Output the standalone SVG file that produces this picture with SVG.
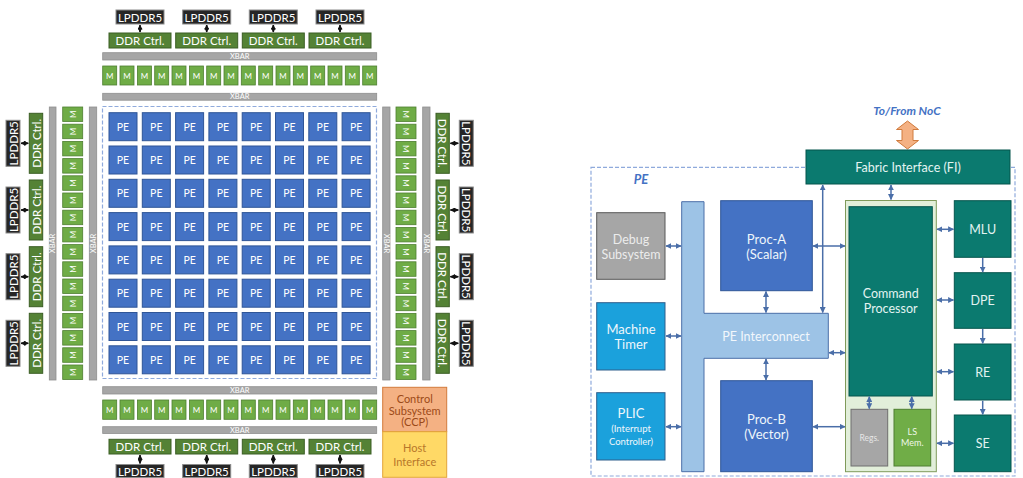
<svg xmlns="http://www.w3.org/2000/svg" width="1023" height="478" viewBox="0 0 1023 478">
<style>
text{font-family:Lato,"Liberation Sans",sans-serif;text-anchor:middle;dominant-baseline:central}
.lp{fill:#262626;stroke:#8c8c8c;stroke-width:1}
.lpt{fill:#fff;font-size:11.5px}
.dc{fill:#548235;stroke:#3b5e25;stroke-width:1}
.dct{fill:#fff;font-size:11.5px}
.xb{fill:#a6a6a6;stroke:#8f8f8f;stroke-width:.8}
.xbt{fill:#fff;font-size:7.5px}
.m{fill:#6fac46;stroke:#4e7f30;stroke-width:.8}
.mt{fill:#fff;font-size:8px}
.pe{fill:#4472c4;stroke:#2f5597;stroke-width:1}
.pet{fill:#fff;font-size:10.5px}
.ka{stroke:#111;stroke-width:1.6;fill:none;marker-start:url(#kh);marker-end:url(#kh)}
.ba{stroke:#4a6ea8;stroke-width:1.5;fill:none;marker-start:url(#bh);marker-end:url(#bh)}
.bs{stroke:#4a6ea8;stroke-width:1.5;fill:none;marker-end:url(#bh)}
.dash{fill:none;stroke:#8faadc;stroke-width:1.2;stroke-dasharray:4 2}
.tl{fill:#0b7a6f;stroke:#05554d;stroke-width:1}
.tlt{fill:#e3f4f2;font-size:12.5px}
.sb{fill:#1ba1dc;stroke:#2e5e8c;stroke-width:1}
.wt{fill:#eef6fb;font-size:13px}
.pb{fill:#4472c4;stroke:#2f5597;stroke-width:1}
</style>
<defs>
<marker id="kh" viewBox="0 0 10 10" refX="9" refY="5" markerWidth="5" markerHeight="5" markerUnits="userSpaceOnUse" orient="auto-start-reverse"><path d="M0,0 L10,5 L0,10 Z" fill="#111"/></marker>
<marker id="bh" viewBox="0 0 10 10" refX="9" refY="5" markerWidth="6" markerHeight="6" markerUnits="userSpaceOnUse" orient="auto-start-reverse"><path d="M0,0 L10,5 L0,10 Z" fill="#4a6ea8"/></marker>
</defs>

<!-- ===== LEFT: SoC diagram ===== -->
<rect class="dash" x="102.5" y="106.5" width="274" height="272"/>

<!-- top memory -->
<g id="top-lpddr-1"><rect class="lp" x="116" y="10" width="48" height="14"/><text class="lpt" x="140" y="17">LPDDR5</text></g>
<g id="top-lpddr-2"><rect class="lp" x="182.7" y="10" width="48" height="14"/><text class="lpt" x="206.7" y="17">LPDDR5</text></g>
<g id="top-lpddr-3"><rect class="lp" x="249.3" y="10" width="48" height="14"/><text class="lpt" x="273.3" y="17">LPDDR5</text></g>
<g id="top-lpddr-4"><rect class="lp" x="316" y="10" width="48" height="14"/><text class="lpt" x="340" y="17">LPDDR5</text></g>
<g id="top-ddr-1"><rect class="dc" x="109" y="33" width="62" height="15"/><text class="dct" x="140" y="40.5">DDR Ctrl.</text></g>
<g id="top-ddr-2"><rect class="dc" x="175.7" y="33" width="62" height="15"/><text class="dct" x="206.7" y="40.5">DDR Ctrl.</text></g>
<g id="top-ddr-3"><rect class="dc" x="242.3" y="33" width="62" height="15"/><text class="dct" x="273.3" y="40.5">DDR Ctrl.</text></g>
<g id="top-ddr-4"><rect class="dc" x="309" y="33" width="62" height="15"/><text class="dct" x="340" y="40.5">DDR Ctrl.</text></g>
<g id="top-xbar-1"><rect class="xb" x="102.7" y="52.7" width="274" height="7.3"/><text class="xbt" x="239.7" y="56.5">XBAR</text></g>
<g id="top-xbar-2"><rect class="xb" x="102.7" y="93.3" width="274" height="6.9"/><text class="xbt" x="239.7" y="96.9">XBAR</text></g>
<g id="top-m">
<rect class="m" x="102.7" y="66" width="14" height="19"/><text class="mt" x="109.7" y="75.5">M</text>
<rect class="m" x="120.0" y="66" width="14" height="19"/><text class="mt" x="127.0" y="75.5">M</text>
<rect class="m" x="137.4" y="66" width="14" height="19"/><text class="mt" x="144.4" y="75.5">M</text>
<rect class="m" x="154.7" y="66" width="14" height="19"/><text class="mt" x="161.7" y="75.5">M</text>
<rect class="m" x="172.0" y="66" width="14" height="19"/><text class="mt" x="179.0" y="75.5">M</text>
<rect class="m" x="189.4" y="66" width="14" height="19"/><text class="mt" x="196.4" y="75.5">M</text>
<rect class="m" x="206.7" y="66" width="14" height="19"/><text class="mt" x="213.7" y="75.5">M</text>
<rect class="m" x="224.0" y="66" width="14" height="19"/><text class="mt" x="231.0" y="75.5">M</text>
<rect class="m" x="241.3" y="66" width="14" height="19"/><text class="mt" x="248.3" y="75.5">M</text>
<rect class="m" x="258.7" y="66" width="14" height="19"/><text class="mt" x="265.7" y="75.5">M</text>
<rect class="m" x="276.0" y="66" width="14" height="19"/><text class="mt" x="283.0" y="75.5">M</text>
<rect class="m" x="293.3" y="66" width="14" height="19"/><text class="mt" x="300.3" y="75.5">M</text>
<rect class="m" x="310.7" y="66" width="14" height="19"/><text class="mt" x="317.7" y="75.5">M</text>
<rect class="m" x="328.0" y="66" width="14" height="19"/><text class="mt" x="335.0" y="75.5">M</text>
<rect class="m" x="345.3" y="66" width="14" height="19"/><text class="mt" x="352.3" y="75.5">M</text>
<rect class="m" x="362.7" y="66" width="14" height="19"/><text class="mt" x="369.7" y="75.5">M</text>
</g>

<!-- bottom memory -->
<g id="bot-xbar-1"><rect class="xb" x="102.7" y="386.7" width="274" height="7.3"/><text class="xbt" x="239.7" y="390.5">XBAR</text></g>
<g id="bot-xbar-2"><rect class="xb" x="102.7" y="426.7" width="274" height="6.8"/><text class="xbt" x="239.7" y="430.2">XBAR</text></g>
<g id="bot-m">
<rect class="m" x="102.7" y="400" width="14" height="19.3"/><text class="mt" x="109.7" y="409.7">M</text>
<rect class="m" x="120.0" y="400" width="14" height="19.3"/><text class="mt" x="127.0" y="409.7">M</text>
<rect class="m" x="137.4" y="400" width="14" height="19.3"/><text class="mt" x="144.4" y="409.7">M</text>
<rect class="m" x="154.7" y="400" width="14" height="19.3"/><text class="mt" x="161.7" y="409.7">M</text>
<rect class="m" x="172.0" y="400" width="14" height="19.3"/><text class="mt" x="179.0" y="409.7">M</text>
<rect class="m" x="189.4" y="400" width="14" height="19.3"/><text class="mt" x="196.4" y="409.7">M</text>
<rect class="m" x="206.7" y="400" width="14" height="19.3"/><text class="mt" x="213.7" y="409.7">M</text>
<rect class="m" x="224.0" y="400" width="14" height="19.3"/><text class="mt" x="231.0" y="409.7">M</text>
<rect class="m" x="241.3" y="400" width="14" height="19.3"/><text class="mt" x="248.3" y="409.7">M</text>
<rect class="m" x="258.7" y="400" width="14" height="19.3"/><text class="mt" x="265.7" y="409.7">M</text>
<rect class="m" x="276.0" y="400" width="14" height="19.3"/><text class="mt" x="283.0" y="409.7">M</text>
<rect class="m" x="293.3" y="400" width="14" height="19.3"/><text class="mt" x="300.3" y="409.7">M</text>
<rect class="m" x="310.7" y="400" width="14" height="19.3"/><text class="mt" x="317.7" y="409.7">M</text>
<rect class="m" x="328.0" y="400" width="14" height="19.3"/><text class="mt" x="335.0" y="409.7">M</text>
<rect class="m" x="345.3" y="400" width="14" height="19.3"/><text class="mt" x="352.3" y="409.7">M</text>
<rect class="m" x="362.7" y="400" width="14" height="19.3"/><text class="mt" x="369.7" y="409.7">M</text>
</g>
<g id="bot-ddr-1"><rect class="dc" x="109" y="439.3" width="62" height="14.7"/><text class="dct" x="140" y="446.7">DDR Ctrl.</text></g>
<g id="bot-ddr-2"><rect class="dc" x="175.7" y="439.3" width="62" height="14.7"/><text class="dct" x="206.7" y="446.7">DDR Ctrl.</text></g>
<g id="bot-ddr-3"><rect class="dc" x="242.3" y="439.3" width="62" height="14.7"/><text class="dct" x="273.3" y="446.7">DDR Ctrl.</text></g>
<g id="bot-ddr-4"><rect class="dc" x="309" y="439.3" width="62" height="14.7"/><text class="dct" x="340" y="446.7">DDR Ctrl.</text></g>
<g id="bot-lpddr-1"><rect class="lp" x="116" y="464.5" width="48" height="13"/><text class="lpt" x="140" y="471">LPDDR5</text></g>
<g id="bot-lpddr-2"><rect class="lp" x="182.7" y="464.5" width="48" height="13"/><text class="lpt" x="206.7" y="471">LPDDR5</text></g>
<g id="bot-lpddr-3"><rect class="lp" x="249.3" y="464.5" width="48" height="13"/><text class="lpt" x="273.3" y="471">LPDDR5</text></g>
<g id="bot-lpddr-4"><rect class="lp" x="316" y="464.5" width="48" height="13"/><text class="lpt" x="340" y="471">LPDDR5</text></g>

<!-- left memory -->
<g id="left-lpddr-1"><rect class="lp" x="6" y="120.3" width="14" height="46"/><text class="lpt" transform="translate(13,143.3) rotate(-90)">LPDDR5</text></g>
<g id="left-lpddr-2"><rect class="lp" x="6" y="187" width="14" height="46"/><text class="lpt" transform="translate(13,210) rotate(-90)">LPDDR5</text></g>
<g id="left-lpddr-3"><rect class="lp" x="6" y="253.7" width="14" height="46"/><text class="lpt" transform="translate(13,276.7) rotate(-90)">LPDDR5</text></g>
<g id="left-lpddr-4"><rect class="lp" x="6" y="320.3" width="14" height="46"/><text class="lpt" transform="translate(13,343.3) rotate(-90)">LPDDR5</text></g>
<g id="left-ddr-1"><rect class="dc" x="29.3" y="113.3" width="13.4" height="60"/><text class="dct" transform="translate(36,143.3) rotate(-90)">DDR Ctrl.</text></g>
<g id="left-ddr-2"><rect class="dc" x="29.3" y="180" width="13.4" height="60"/><text class="dct" transform="translate(36,210) rotate(-90)">DDR Ctrl.</text></g>
<g id="left-ddr-3"><rect class="dc" x="29.3" y="246.7" width="13.4" height="60"/><text class="dct" transform="translate(36,276.7) rotate(-90)">DDR Ctrl.</text></g>
<g id="left-ddr-4"><rect class="dc" x="29.3" y="313.3" width="13.4" height="60"/><text class="dct" transform="translate(36,343.3) rotate(-90)">DDR Ctrl.</text></g>
<g id="left-xbar-1"><rect class="xb" x="49.3" y="107" width="6.7" height="273"/><text class="xbt" transform="translate(52.7,243.5) rotate(-90)">XBAR</text></g>
<g id="left-xbar-2"><rect class="xb" x="89.3" y="107" width="7.4" height="273"/><text class="xbt" transform="translate(93,243.5) rotate(-90)">XBAR</text></g>
<g id="left-m">
<rect class="m" x="62.7" y="107" width="20" height="14.5"/><text class="mt" transform="translate(72.7,114.25) rotate(-90)">M</text>
<rect class="m" x="62.7" y="124.2" width="20" height="14.5"/><text class="mt" transform="translate(72.7,131.45) rotate(-90)">M</text>
<rect class="m" x="62.7" y="141.4" width="20" height="14.5"/><text class="mt" transform="translate(72.7,148.65) rotate(-90)">M</text>
<rect class="m" x="62.7" y="158.6" width="20" height="14.5"/><text class="mt" transform="translate(72.7,165.85) rotate(-90)">M</text>
<rect class="m" x="62.7" y="175.8" width="20" height="14.5"/><text class="mt" transform="translate(72.7,183.05) rotate(-90)">M</text>
<rect class="m" x="62.7" y="193" width="20" height="14.5"/><text class="mt" transform="translate(72.7,200.25) rotate(-90)">M</text>
<rect class="m" x="62.7" y="210.2" width="20" height="14.5"/><text class="mt" transform="translate(72.7,217.45) rotate(-90)">M</text>
<rect class="m" x="62.7" y="227.4" width="20" height="14.5"/><text class="mt" transform="translate(72.7,234.65) rotate(-90)">M</text>
<rect class="m" x="62.7" y="244.6" width="20" height="14.5"/><text class="mt" transform="translate(72.7,251.85) rotate(-90)">M</text>
<rect class="m" x="62.7" y="261.8" width="20" height="14.5"/><text class="mt" transform="translate(72.7,269.05) rotate(-90)">M</text>
<rect class="m" x="62.7" y="279" width="20" height="14.5"/><text class="mt" transform="translate(72.7,286.25) rotate(-90)">M</text>
<rect class="m" x="62.7" y="296.2" width="20" height="14.5"/><text class="mt" transform="translate(72.7,303.45) rotate(-90)">M</text>
<rect class="m" x="62.7" y="313.4" width="20" height="14.5"/><text class="mt" transform="translate(72.7,320.65) rotate(-90)">M</text>
<rect class="m" x="62.7" y="330.6" width="20" height="14.5"/><text class="mt" transform="translate(72.7,337.85) rotate(-90)">M</text>
<rect class="m" x="62.7" y="347.8" width="20" height="14.5"/><text class="mt" transform="translate(72.7,355.05) rotate(-90)">M</text>
<rect class="m" x="62.7" y="365" width="20" height="14.5"/><text class="mt" transform="translate(72.7,372.25) rotate(-90)">M</text>
</g>

<!-- right memory -->
<g id="right-xbar-1"><rect class="xb" x="382.7" y="107" width="7.3" height="273"/><text class="xbt" transform="translate(386.3,243.5) rotate(90)">XBAR</text></g>
<g id="right-xbar-2"><rect class="xb" x="422.7" y="107" width="7.3" height="273"/><text class="xbt" transform="translate(426.3,243.5) rotate(90)">XBAR</text></g>
<g id="right-m">
<rect class="m" x="396" y="107" width="20" height="14.5"/><text class="mt" transform="translate(406,114.25) rotate(90)">M</text>
<rect class="m" x="396" y="124.2" width="20" height="14.5"/><text class="mt" transform="translate(406,131.45) rotate(90)">M</text>
<rect class="m" x="396" y="141.4" width="20" height="14.5"/><text class="mt" transform="translate(406,148.65) rotate(90)">M</text>
<rect class="m" x="396" y="158.6" width="20" height="14.5"/><text class="mt" transform="translate(406,165.85) rotate(90)">M</text>
<rect class="m" x="396" y="175.8" width="20" height="14.5"/><text class="mt" transform="translate(406,183.05) rotate(90)">M</text>
<rect class="m" x="396" y="193" width="20" height="14.5"/><text class="mt" transform="translate(406,200.25) rotate(90)">M</text>
<rect class="m" x="396" y="210.2" width="20" height="14.5"/><text class="mt" transform="translate(406,217.45) rotate(90)">M</text>
<rect class="m" x="396" y="227.4" width="20" height="14.5"/><text class="mt" transform="translate(406,234.65) rotate(90)">M</text>
<rect class="m" x="396" y="244.6" width="20" height="14.5"/><text class="mt" transform="translate(406,251.85) rotate(90)">M</text>
<rect class="m" x="396" y="261.8" width="20" height="14.5"/><text class="mt" transform="translate(406,269.05) rotate(90)">M</text>
<rect class="m" x="396" y="279" width="20" height="14.5"/><text class="mt" transform="translate(406,286.25) rotate(90)">M</text>
<rect class="m" x="396" y="296.2" width="20" height="14.5"/><text class="mt" transform="translate(406,303.45) rotate(90)">M</text>
<rect class="m" x="396" y="313.4" width="20" height="14.5"/><text class="mt" transform="translate(406,320.65) rotate(90)">M</text>
<rect class="m" x="396" y="330.6" width="20" height="14.5"/><text class="mt" transform="translate(406,337.85) rotate(90)">M</text>
<rect class="m" x="396" y="347.8" width="20" height="14.5"/><text class="mt" transform="translate(406,355.05) rotate(90)">M</text>
<rect class="m" x="396" y="365" width="20" height="14.5"/><text class="mt" transform="translate(406,372.25) rotate(90)">M</text>
</g>
<g id="right-ddr-1"><rect class="dc" x="436" y="113.3" width="13.3" height="60"/><text class="dct" transform="translate(442.7,143.3) rotate(90)">DDR Ctrl.</text></g>
<g id="right-ddr-2"><rect class="dc" x="436" y="180" width="13.3" height="60"/><text class="dct" transform="translate(442.7,210) rotate(90)">DDR Ctrl.</text></g>
<g id="right-ddr-3"><rect class="dc" x="436" y="246.7" width="13.3" height="60"/><text class="dct" transform="translate(442.7,276.7) rotate(90)">DDR Ctrl.</text></g>
<g id="right-ddr-4"><rect class="dc" x="436" y="313.3" width="13.3" height="60"/><text class="dct" transform="translate(442.7,343.3) rotate(90)">DDR Ctrl.</text></g>
<g id="right-lpddr-1"><rect class="lp" x="459.3" y="120.3" width="14" height="46"/><text class="lpt" transform="translate(466.3,143.3) rotate(90)">LPDDR5</text></g>
<g id="right-lpddr-2"><rect class="lp" x="459.3" y="187" width="14" height="46"/><text class="lpt" transform="translate(466.3,210) rotate(90)">LPDDR5</text></g>
<g id="right-lpddr-3"><rect class="lp" x="459.3" y="253.7" width="14" height="46"/><text class="lpt" transform="translate(466.3,276.7) rotate(90)">LPDDR5</text></g>
<g id="right-lpddr-4"><rect class="lp" x="459.3" y="320.3" width="14" height="46"/><text class="lpt" transform="translate(466.3,343.3) rotate(90)">LPDDR5</text></g>

<!-- control / host -->
<g id="ccp"><rect x="382.7" y="387.3" width="64" height="44.4" fill="#f4b183" stroke="#d37b3b" stroke-width="1"/>
<text x="414.7" y="398.5" fill="#9c4a18" font-size="11">Control</text><text x="414.7" y="410" fill="#9c4a18" font-size="11">Subsystem</text><text x="414.7" y="421.5" fill="#9c4a18" font-size="11">(CCP)</text></g>
<g id="host"><rect x="382.7" y="431.7" width="64" height="45.6" fill="#ffd966" stroke="#e3a43a" stroke-width="1"/>
<text x="414.7" y="447" fill="#b8772a" font-size="11">Host</text><text x="414.7" y="461" fill="#b8772a" font-size="11">Interface</text></g>

<!-- PE grid -->
<g id="pe-r1">
<rect class="pe" x="109" y="112.7" width="28" height="28"/><text class="pet" x="123" y="126.7">PE</text>
<rect class="pe" x="142.3" y="112.7" width="28" height="28"/><text class="pet" x="156.3" y="126.7">PE</text>
<rect class="pe" x="175.6" y="112.7" width="28" height="28"/><text class="pet" x="189.6" y="126.7">PE</text>
<rect class="pe" x="208.9" y="112.7" width="28" height="28"/><text class="pet" x="222.9" y="126.7">PE</text>
<rect class="pe" x="242.2" y="112.7" width="28" height="28"/><text class="pet" x="256.2" y="126.7">PE</text>
<rect class="pe" x="275.5" y="112.7" width="28" height="28"/><text class="pet" x="289.5" y="126.7">PE</text>
<rect class="pe" x="308.8" y="112.7" width="28" height="28"/><text class="pet" x="322.8" y="126.7">PE</text>
<rect class="pe" x="342.1" y="112.7" width="28" height="28"/><text class="pet" x="356.1" y="126.7">PE</text>
</g>
<g id="pe-r2">
<rect class="pe" x="109" y="146" width="28" height="28"/><text class="pet" x="123" y="160">PE</text>
<rect class="pe" x="142.3" y="146" width="28" height="28"/><text class="pet" x="156.3" y="160">PE</text>
<rect class="pe" x="175.6" y="146" width="28" height="28"/><text class="pet" x="189.6" y="160">PE</text>
<rect class="pe" x="208.9" y="146" width="28" height="28"/><text class="pet" x="222.9" y="160">PE</text>
<rect class="pe" x="242.2" y="146" width="28" height="28"/><text class="pet" x="256.2" y="160">PE</text>
<rect class="pe" x="275.5" y="146" width="28" height="28"/><text class="pet" x="289.5" y="160">PE</text>
<rect class="pe" x="308.8" y="146" width="28" height="28"/><text class="pet" x="322.8" y="160">PE</text>
<rect class="pe" x="342.1" y="146" width="28" height="28"/><text class="pet" x="356.1" y="160">PE</text>
</g>
<g id="pe-r3">
<rect class="pe" x="109" y="179.3" width="28" height="28"/><text class="pet" x="123" y="193.3">PE</text>
<rect class="pe" x="142.3" y="179.3" width="28" height="28"/><text class="pet" x="156.3" y="193.3">PE</text>
<rect class="pe" x="175.6" y="179.3" width="28" height="28"/><text class="pet" x="189.6" y="193.3">PE</text>
<rect class="pe" x="208.9" y="179.3" width="28" height="28"/><text class="pet" x="222.9" y="193.3">PE</text>
<rect class="pe" x="242.2" y="179.3" width="28" height="28"/><text class="pet" x="256.2" y="193.3">PE</text>
<rect class="pe" x="275.5" y="179.3" width="28" height="28"/><text class="pet" x="289.5" y="193.3">PE</text>
<rect class="pe" x="308.8" y="179.3" width="28" height="28"/><text class="pet" x="322.8" y="193.3">PE</text>
<rect class="pe" x="342.1" y="179.3" width="28" height="28"/><text class="pet" x="356.1" y="193.3">PE</text>
</g>
<g id="pe-r4">
<rect class="pe" x="109" y="212.6" width="28" height="28"/><text class="pet" x="123" y="226.6">PE</text>
<rect class="pe" x="142.3" y="212.6" width="28" height="28"/><text class="pet" x="156.3" y="226.6">PE</text>
<rect class="pe" x="175.6" y="212.6" width="28" height="28"/><text class="pet" x="189.6" y="226.6">PE</text>
<rect class="pe" x="208.9" y="212.6" width="28" height="28"/><text class="pet" x="222.9" y="226.6">PE</text>
<rect class="pe" x="242.2" y="212.6" width="28" height="28"/><text class="pet" x="256.2" y="226.6">PE</text>
<rect class="pe" x="275.5" y="212.6" width="28" height="28"/><text class="pet" x="289.5" y="226.6">PE</text>
<rect class="pe" x="308.8" y="212.6" width="28" height="28"/><text class="pet" x="322.8" y="226.6">PE</text>
<rect class="pe" x="342.1" y="212.6" width="28" height="28"/><text class="pet" x="356.1" y="226.6">PE</text>
</g>
<g id="pe-r5">
<rect class="pe" x="109" y="245.9" width="28" height="28"/><text class="pet" x="123" y="259.9">PE</text>
<rect class="pe" x="142.3" y="245.9" width="28" height="28"/><text class="pet" x="156.3" y="259.9">PE</text>
<rect class="pe" x="175.6" y="245.9" width="28" height="28"/><text class="pet" x="189.6" y="259.9">PE</text>
<rect class="pe" x="208.9" y="245.9" width="28" height="28"/><text class="pet" x="222.9" y="259.9">PE</text>
<rect class="pe" x="242.2" y="245.9" width="28" height="28"/><text class="pet" x="256.2" y="259.9">PE</text>
<rect class="pe" x="275.5" y="245.9" width="28" height="28"/><text class="pet" x="289.5" y="259.9">PE</text>
<rect class="pe" x="308.8" y="245.9" width="28" height="28"/><text class="pet" x="322.8" y="259.9">PE</text>
<rect class="pe" x="342.1" y="245.9" width="28" height="28"/><text class="pet" x="356.1" y="259.9">PE</text>
</g>
<g id="pe-r6">
<rect class="pe" x="109" y="279.2" width="28" height="28"/><text class="pet" x="123" y="293.2">PE</text>
<rect class="pe" x="142.3" y="279.2" width="28" height="28"/><text class="pet" x="156.3" y="293.2">PE</text>
<rect class="pe" x="175.6" y="279.2" width="28" height="28"/><text class="pet" x="189.6" y="293.2">PE</text>
<rect class="pe" x="208.9" y="279.2" width="28" height="28"/><text class="pet" x="222.9" y="293.2">PE</text>
<rect class="pe" x="242.2" y="279.2" width="28" height="28"/><text class="pet" x="256.2" y="293.2">PE</text>
<rect class="pe" x="275.5" y="279.2" width="28" height="28"/><text class="pet" x="289.5" y="293.2">PE</text>
<rect class="pe" x="308.8" y="279.2" width="28" height="28"/><text class="pet" x="322.8" y="293.2">PE</text>
<rect class="pe" x="342.1" y="279.2" width="28" height="28"/><text class="pet" x="356.1" y="293.2">PE</text>
</g>
<g id="pe-r7">
<rect class="pe" x="109" y="312.5" width="28" height="28"/><text class="pet" x="123" y="326.5">PE</text>
<rect class="pe" x="142.3" y="312.5" width="28" height="28"/><text class="pet" x="156.3" y="326.5">PE</text>
<rect class="pe" x="175.6" y="312.5" width="28" height="28"/><text class="pet" x="189.6" y="326.5">PE</text>
<rect class="pe" x="208.9" y="312.5" width="28" height="28"/><text class="pet" x="222.9" y="326.5">PE</text>
<rect class="pe" x="242.2" y="312.5" width="28" height="28"/><text class="pet" x="256.2" y="326.5">PE</text>
<rect class="pe" x="275.5" y="312.5" width="28" height="28"/><text class="pet" x="289.5" y="326.5">PE</text>
<rect class="pe" x="308.8" y="312.5" width="28" height="28"/><text class="pet" x="322.8" y="326.5">PE</text>
<rect class="pe" x="342.1" y="312.5" width="28" height="28"/><text class="pet" x="356.1" y="326.5">PE</text>
</g>
<g id="pe-r8">
<rect class="pe" x="109" y="345.8" width="28" height="28"/><text class="pet" x="123" y="359.8">PE</text>
<rect class="pe" x="142.3" y="345.8" width="28" height="28"/><text class="pet" x="156.3" y="359.8">PE</text>
<rect class="pe" x="175.6" y="345.8" width="28" height="28"/><text class="pet" x="189.6" y="359.8">PE</text>
<rect class="pe" x="208.9" y="345.8" width="28" height="28"/><text class="pet" x="222.9" y="359.8">PE</text>
<rect class="pe" x="242.2" y="345.8" width="28" height="28"/><text class="pet" x="256.2" y="359.8">PE</text>
<rect class="pe" x="275.5" y="345.8" width="28" height="28"/><text class="pet" x="289.5" y="359.8">PE</text>
<rect class="pe" x="308.8" y="345.8" width="28" height="28"/><text class="pet" x="322.8" y="359.8">PE</text>
<rect class="pe" x="342.1" y="345.8" width="28" height="28"/><text class="pet" x="356.1" y="359.8">PE</text>
</g>

<!-- ===== RIGHT: PE detail ===== -->
<rect class="dash" x="591" y="167.3" width="424" height="308.7"/>
<text x="641" y="178.5" fill="#4472c4" font-size="13" font-weight="bold" font-style="italic">PE</text>
<text x="907" y="110" fill="#4472c4" font-size="12" font-weight="bold" font-style="italic">To/From NoC</text>
<polygon points="907.5,121 918.5,129.5 913,129.5 913,140.5 918.5,140.5 907.5,149 896.5,140.5 902,140.5 902,129.5 896.5,129.5" fill="#f4b183" stroke="#d07a3c" stroke-width="1"/>

<g id="fi"><rect class="tl" x="806" y="150" width="204" height="34"/><text class="tlt" x="908" y="167">Fabric Interface (FI)</text></g>
<g id="debug"><rect x="596.7" y="212.7" width="68.3" height="66.6" fill="#a6a6a6" stroke="#595959" stroke-width="1"/><text x="631" y="239" fill="#ececec" font-size="12.5">Debug</text><text x="631" y="254" fill="#ececec" font-size="12.5">Subsystem</text></g>
<g id="timer"><rect class="sb" x="596.7" y="302.7" width="68.3" height="67.3"/><text class="wt" x="631" y="328.5">Machine</text><text class="wt" x="631" y="344">Timer</text></g>
<g id="plic"><rect class="sb" x="596.7" y="392.7" width="68.3" height="67.3"/><text class="wt" x="631" y="413">PLIC</text><text x="631" y="428" fill="#eef6fb" font-size="9.5">(Interrupt</text><text x="631" y="441" fill="#eef6fb" font-size="9.5">Controller)</text></g>
<g id="interconnect"><polygon points="681.7,201.7 704,201.7 704,313.3 828.3,313.3 828.3,358.3 704,358.3 704,471.7 681.7,471.7" fill="#9dc3e6" stroke="#4a6ea8" stroke-width="1"/><text x="766" y="336" fill="#f2f7fc" font-size="12.5">PE Interconnect</text></g>
<g id="proc-a"><rect class="pb" x="720.7" y="200.7" width="91.6" height="90"/><text class="wt" x="766.5" y="239">Proc-A</text><text class="wt" x="766.5" y="254">(Scalar)</text></g>
<g id="proc-b"><rect class="pb" x="720.7" y="380.7" width="91.6" height="91"/><text class="wt" x="766.5" y="419">Proc-B</text><text class="wt" x="766.5" y="434">(Vector)</text></g>
<g id="cp-outer"><rect x="845.5" y="200.5" width="90.8" height="271.2" fill="#e2efda" stroke="#7f9a5a" stroke-width="1"/></g>
<g id="cp"><rect class="tl" x="849" y="206.7" width="83.3" height="189.3"/><text class="tlt" x="890.7" y="293">Command</text><text class="tlt" x="890.7" y="308">Processor</text></g>
<g id="regs"><rect x="851" y="409.3" width="36.7" height="56.7" fill="#a6a6a6" stroke="#6f6f6f" stroke-width="1"/><text x="869.3" y="437.5" fill="#e6e6e6" font-size="8.5">Regs.</text></g>
<g id="lsmem"><rect x="894" y="409.3" width="36.7" height="56.7" fill="#70ad47" stroke="#4e7f30" stroke-width="1"/><text x="912.3" y="431" fill="#eef7e8" font-size="9">LS</text><text x="912.3" y="442" fill="#eef7e8" font-size="9">Mem.</text></g>
<g id="mlu"><rect class="tl" x="954.3" y="200.7" width="56.7" height="56.6"/><text class="tlt" x="982.7" y="229">MLU</text></g>
<g id="dpe"><rect class="tl" x="954.3" y="272.7" width="56.7" height="55.6"/><text class="tlt" x="982.7" y="300.5">DPE</text></g>
<g id="re"><rect class="tl" x="954.3" y="344" width="56.7" height="56"/><text class="tlt" x="982.7" y="372">RE</text></g>
<g id="se"><rect class="tl" x="954.3" y="415" width="56.7" height="56.7"/><text class="tlt" x="982.7" y="443.3">SE</text></g>

<!-- connectors -->
<g id="connectors">
<line class="ka" x1="140" y1="25" x2="140" y2="32"/>
<line class="ka" x1="206.7" y1="25" x2="206.7" y2="32"/>
<line class="ka" x1="273.3" y1="25" x2="273.3" y2="32"/>
<line class="ka" x1="340" y1="25" x2="340" y2="32"/>
<line class="ka" x1="140" y1="455" x2="140" y2="463.5"/>
<line class="ka" x1="206.7" y1="455" x2="206.7" y2="463.5"/>
<line class="ka" x1="273.3" y1="455" x2="273.3" y2="463.5"/>
<line class="ka" x1="340" y1="455" x2="340" y2="463.5"/>
<line class="ka" x1="21" y1="143.3" x2="28.3" y2="143.3"/>
<line class="ka" x1="21" y1="210" x2="28.3" y2="210"/>
<line class="ka" x1="21" y1="276.7" x2="28.3" y2="276.7"/>
<line class="ka" x1="21" y1="343.3" x2="28.3" y2="343.3"/>
<line class="ka" x1="450.3" y1="143.3" x2="458.3" y2="143.3"/>
<line class="ka" x1="450.3" y1="210" x2="458.3" y2="210"/>
<line class="ka" x1="450.3" y1="276.7" x2="458.3" y2="276.7"/>
<line class="ka" x1="450.3" y1="343.3" x2="458.3" y2="343.3"/>

<line class="ba" x1="822.7" y1="185" x2="822.7" y2="312.5"/>
<line class="ba" x1="891" y1="185" x2="891" y2="199.5"/>
<line class="ba" x1="666" y1="246" x2="681" y2="246"/>
<line class="ba" x1="666" y1="336" x2="681" y2="336"/>
<line class="ba" x1="666" y1="426.7" x2="681" y2="426.7"/>
<line class="ba" x1="766" y1="291.5" x2="766" y2="312.5"/>
<line class="ba" x1="766" y1="359" x2="766" y2="380"/>
<line class="ba" x1="813" y1="246" x2="845" y2="246"/>
<line class="ba" x1="829" y1="352.7" x2="845" y2="352.7"/>
<line class="ba" x1="813" y1="426.7" x2="845" y2="426.7"/>
<line class="ba" x1="937" y1="229.3" x2="953.5" y2="229.3"/>
<line class="ba" x1="937" y1="300" x2="953.5" y2="300"/>
<line class="ba" x1="937" y1="371.7" x2="953.5" y2="371.7"/>
<line class="ba" x1="937" y1="443.3" x2="953.5" y2="443.3"/>
<line class="bs" x1="982.7" y1="258" x2="982.7" y2="272"/>
<line class="bs" x1="982.7" y1="329" x2="982.7" y2="343.3"/>
<line class="bs" x1="982.7" y1="400.7" x2="982.7" y2="414.3"/>
<line class="ba" x1="869.3" y1="396.7" x2="869.3" y2="408.6"/>
<line class="ba" x1="911.7" y1="396.7" x2="911.7" y2="408.6"/>
</g>
</svg>
